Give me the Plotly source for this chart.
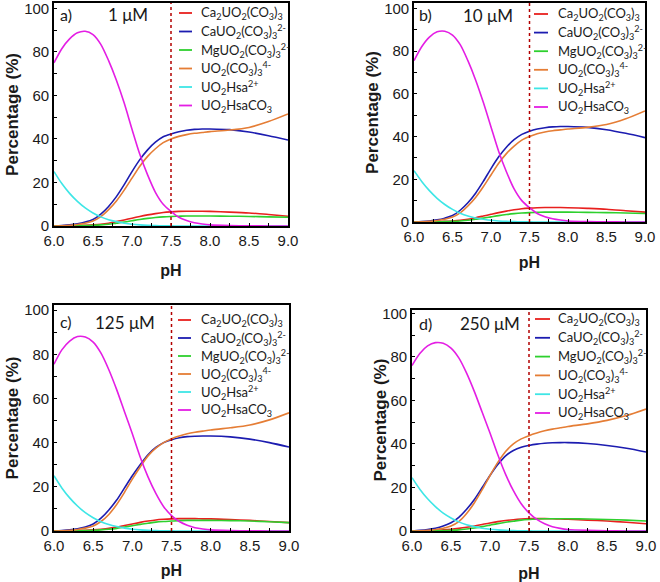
import plotly.graph_objects as go

OFF = 0
W, H = 660, 582

ph = [6.0, 6.1, 6.2, 6.3, 6.4, 6.5, 6.6, 6.7, 6.8, 6.9, 7.0, 7.1, 7.2, 7.3, 7.4, 7.5,
      7.6, 7.7, 7.8, 7.9, 8.0, 8.25, 8.5, 8.75, 9.0]

species = [
    "Ca<sub>2</sub>UO<sub>2</sub>(CO<sub>3</sub>)<sub>3</sub>",
    "CaUO<sub>2</sub>(CO<sub>3</sub>)<sub>3</sub><sup>2-</sup>",
    "MgUO<sub>2</sub>(CO<sub>3</sub>)<sub>3</sub><sup>2-</sup>",
    "UO<sub>2</sub>(CO<sub>3</sub>)<sub>3</sub><sup>4-</sup>",
    "UO<sub>2</sub>Hsa<sup>2+</sup>",
    "UO<sub>2</sub>HsaCO<sub>3</sub>",
]
colors = ["#e8201e", "#1c1cb0", "#2ed02e", "#e57d35", "#3ee6e6", "#e41ee4"]

panel_labels = ["a)", "b)", "c)", "d)"]
conc_labels = ["1 \u03bcM", "10 \u03bcM", "125 \u03bcM", "250 \u03bcM"]

# ---- panel a : 1 uM
a_ca2 = [0, 0, 0.1, 0.2, 0.3, 0.5, 0.8, 1.3, 2.0, 2.8, 3.6, 4.4, 5.1, 5.7, 6.2, 6.5,
         6.7, 6.8, 6.8, 6.8, 6.7, 6.4, 6.0, 5.3, 4.5]
a_ca = [0, 0.2, 0.5, 1.0, 1.8, 3.0, 5.5, 9.0, 13.5, 19.0, 25.0, 30.5, 35.0, 38.5, 41.0, 42.3,
        43.3, 44.0, 44.4, 44.6, 44.6, 44.3, 43.2, 41.5, 39.5]
a_mg = [0, 0, 0, 0.1, 0.2, 0.3, 0.5, 0.8, 1.3, 1.8, 2.4, 3.0, 3.5, 3.9, 4.2, 4.4,
        4.5, 4.6, 4.6, 4.6, 4.6, 4.5, 4.4, 4.2, 4.0]
a_uo2co3 = [0, 0.1, 0.3, 0.7, 1.3, 2.3, 4.3, 7.5, 11.5, 16.5, 22.0, 27.5, 32.0, 35.5, 38.3, 40.0,
            41.2, 42.0, 42.6, 43.0, 43.4, 44.1, 45.3, 48.0, 51.5]
a_hsa = [25.0, 19.5, 15.0, 11.3, 8.3, 6.0, 4.2, 2.9, 2.0, 1.3, 0.8, 0.5, 0.3, 0.2, 0.1, 0.05,
         0, 0, 0, 0, 0, 0, 0, 0, 0]
a_hsaco3 = [75.0, 81.5, 86.0, 88.8, 89.5, 88.0, 83.5, 76.0, 67.0, 56.5, 44.5, 33.0, 23.5, 15.5, 10.0, 6.7,
            4.0, 2.5, 1.5, 0.9, 0.5, 0.2, 0.1, 0, 0]

# ---- panel b : 10 uM
b_ca2 = [0, 0, 0.1, 0.2, 0.3, 0.5, 0.8, 1.3, 2.0, 2.8, 3.6, 4.4, 5.1, 5.7, 6.2, 6.5,
         6.7, 6.8, 6.8, 6.8, 6.7, 6.4, 6.0, 5.3, 4.6]
b_ca = [0, 0.2, 0.5, 1.0, 1.8, 3.0, 5.5, 9.0, 13.5, 19.0, 25.0, 30.5, 35.0, 38.5, 41.0, 42.5,
        43.5, 44.1, 44.5, 44.7, 44.7, 44.3, 43.2, 41.5, 39.5]
b_mg = [0, 0, 0, 0.1, 0.2, 0.3, 0.5, 0.8, 1.3, 1.8, 2.4, 3.0, 3.5, 3.9, 4.2, 4.4,
        4.5, 4.6, 4.6, 4.6, 4.6, 4.5, 4.4, 4.2, 4.0]
b_uo2co3 = [0, 0.1, 0.3, 0.7, 1.3, 2.3, 4.3, 7.5, 11.5, 16.5, 22.0, 27.5, 32.0, 35.5, 38.3, 40.0,
            41.3, 42.1, 42.7, 43.1, 43.5, 44.3, 45.6, 48.3, 52.0]
b_hsa = [24.0, 19.0, 14.7, 11.1, 8.2, 5.9, 4.1, 2.8, 1.9, 1.3, 0.8, 0.5, 0.3, 0.2, 0.1, 0.05,
         0, 0, 0, 0, 0, 0, 0, 0, 0]
b_hsaco3 = [75.5, 82.0, 86.5, 89.0, 89.3, 87.5, 83.0, 75.5, 66.5, 56.0, 44.5, 33.0, 23.5, 15.5, 10.0, 6.7,
            4.0, 2.5, 1.5, 0.9, 0.5, 0.2, 0.1, 0, 0]

# ---- panel c : 125 uM
c_ca2 = [0, 0, 0.1, 0.2, 0.3, 0.5, 0.8, 1.2, 1.8, 2.5, 3.2, 3.9, 4.5, 5.0, 5.3, 5.5,
         5.6, 5.6, 5.6, 5.5, 5.5, 5.2, 4.8, 4.3, 3.8]
c_ca = [0, 0.2, 0.5, 1.0, 1.8, 3.2, 5.8, 9.5, 14.0, 19.5, 25.0, 30.0, 34.5, 37.8, 40.0, 41.3,
        42.2, 42.7, 42.9, 43.0, 43.0, 42.6, 41.6, 40.0, 38.0]
c_mg = [0, 0, 0, 0.1, 0.2, 0.3, 0.5, 0.8, 1.2, 1.8, 2.4, 3.0, 3.5, 4.0, 4.3, 4.5,
        4.7, 4.8, 4.8, 4.8, 4.8, 4.7, 4.5, 4.2, 3.8]
c_uo2co3 = [0, 0.1, 0.3, 0.7, 1.3, 2.3, 4.3, 7.5, 12.0, 17.5, 23.5, 29.0, 34.0, 37.5, 40.0, 41.8,
            43.0, 44.0, 44.7, 45.2, 45.7, 46.7, 48.0, 50.3, 53.5]
c_hsa = [25.0, 19.5, 15.0, 11.3, 8.3, 6.0, 4.2, 2.9, 2.0, 1.3, 0.8, 0.5, 0.3, 0.2, 0.1, 0.05,
         0, 0, 0, 0, 0, 0, 0, 0, 0]
c_hsaco3 = [75.5, 82.0, 86.0, 88.0, 87.8, 85.5, 80.5, 73.0, 64.0, 54.0, 44.0, 33.5, 24.5, 17.0, 11.0, 7.0,
            4.3, 2.6, 1.5, 0.9, 0.5, 0.2, 0.1, 0, 0]

# ---- panel d : 250 uM
d_ca2 = [0, 0, 0.1, 0.3, 0.5, 0.8, 1.2, 1.7, 2.3, 3.0, 3.7, 4.3, 4.8, 5.2, 5.5, 5.7,
         5.7, 5.7, 5.6, 5.5, 5.4, 5.0, 4.6, 4.0, 3.3]
d_ca = [0, 0.3, 0.7, 1.3, 2.3, 3.8, 6.3, 10.0, 14.5, 20.0, 25.5, 30.5, 34.5, 37.0, 38.5, 39.3,
        39.9, 40.3, 40.5, 40.6, 40.6, 40.2, 39.3, 38.0, 36.3]
d_mg = [0, 0, 0, 0.1, 0.2, 0.3, 0.5, 0.9, 1.4, 2.0, 2.7, 3.4, 4.0, 4.5, 5.0, 5.3,
        5.5, 5.6, 5.6, 5.6, 5.6, 5.5, 5.3, 5.0, 4.6]
d_uo2co3 = [0, 0.1, 0.3, 0.7, 1.3, 2.3, 4.3, 8.0, 13.0, 19.0, 25.5, 31.5, 36.5, 40.0, 42.3, 43.8,
            45.0, 46.0, 46.8, 47.4, 48.0, 49.2, 50.8, 53.0, 56.0]
d_hsa = [24.5, 19.2, 14.8, 11.2, 8.2, 6.0, 4.2, 2.9, 2.0, 1.3, 0.8, 0.5, 0.3, 0.2, 0.1, 0.05,
         0, 0, 0, 0, 0, 0, 0, 0, 0]
d_hsaco3 = [76.0, 81.5, 85.0, 86.5, 86.2, 84.0, 79.5, 72.5, 64.0, 54.5, 45.0, 35.0, 26.0, 18.5, 12.5, 8.3,
            5.3, 3.3, 2.0, 1.2, 0.7, 0.3, 0.1, 0, 0]

panels_data = [
    [a_ca2, a_ca, a_mg, a_uo2co3, a_hsa, a_hsaco3],
    [b_ca2, b_ca, b_mg, b_uo2co3, b_hsa, b_hsaco3],
    [c_ca2, c_ca, c_mg, c_uo2co3, c_hsa, c_hsaco3],
    [d_ca2, d_ca, d_mg, d_uo2co3, d_hsa, d_hsaco3],
]

x_ticks = [6.0, 6.5, 7.0, 7.5, 8.0, 8.5, 9.0]
y_ticks = [0, 20, 40, 60, 80, 100]
ph_line = 7.5

# layout in window pixels: plot boxes (left, right, top, bottom) and y-range top
boxes = [
    (54, 288, 3, 226, 102.5),
    (414, 645, 3, 222, 102.5),
    (54, 289, 305, 531, 102.3),
    (412, 646, 310, 531, 101.5),
]
ytitle_standoff = [1, 1, 1, None]
xtitle_standoff = [17, 13, 12, 16]
# legend: swatch x0, swatch x1, text x, first row y, row step
legend_geo = [
    (179, 192, 199, 13, 18.5),
    (534, 548, 556, 14, 18.6),
    (178, 191, 199, 320, 18.0),
    (535, 550, 556, 319, 18.8),
]
label_pos = [(58, 14), (417, 14), (58, 321), (417, 323)]
conc_pos = [(128, 14), (488, 15), (125, 322), (490, 323)]
d_ytitle_x = 380


def px(x):
    return (x - OFF) / W


def py(y):
    return 1 - (y - OFF) / H


fig = go.Figure()
tick_font = dict(family="Liberation Sans, Arial", size=15, color="#1a1a1a")
xtitle_font = dict(family="Liberation Sans, Arial", size=16, color="#1a1a1a")
ytitle_font = dict(family="Liberation Sans, Arial", size=17, color="#1a1a1a")
leg_font = dict(family="Lato, Carlito, sans-serif", size=13, color="#1a1a1a")

for i, series in enumerate(panels_data):
    k = "" if i == 0 else str(i + 1)
    for name, vals, col in zip(species, series, colors):
        fig.add_trace(go.Scatter(
            x=ph, y=vals, name=name, mode="lines",
            line=dict(color=col, width=1.6, shape="spline", smoothing=0.8),
            xaxis="x" + k, yaxis="y" + k, showlegend=False,
        ))
    l, r, t, b, ytop = boxes[i]
    fig.layout["xaxis" + k] = dict(
        domain=[px(l), px(r)], anchor="y" + k, range=[6.0, 9.0], automargin=False,
        tickvals=x_ticks, ticktext=[f"{v:.1f}" for v in x_ticks],
        ticks="inside", ticklen=3, tickcolor="black", tickwidth=1.2,
        minor=dict(dtick=0.25, ticks="inside", ticklen=3, tickcolor="black"),
        showline=True, linecolor="black", linewidth=1.6, mirror=True,
        showgrid=False, zeroline=False, tickfont=tick_font, ticklabeloverflow="allow",
        title=dict(text="<b>pH</b>", font=xtitle_font, standoff=xtitle_standoff[i]),
    )
    ytitle = dict(text="<b>Percentage (%)</b>", font=ytitle_font, standoff=ytitle_standoff[i]) \
        if ytitle_standoff[i] is not None else dict(text="")
    fig.layout["yaxis" + k] = dict(
        domain=[py(b), py(t)], anchor="x" + k, range=[0, ytop], automargin=False,
        tickvals=y_ticks, ticks="inside", ticklen=3, tickcolor="black", tickwidth=1.2,
        minor=dict(dtick=10, ticks="inside", ticklen=3, tickcolor="black"),
        showline=True, linecolor="black", linewidth=1.6, mirror=True,
        showgrid=False, zeroline=False, tickfont=tick_font, ticklabeloverflow="allow",
        title=ytitle,
    )
    if ytitle_standoff[i] is None:
        fig.add_annotation(text="<b>Percentage (%)</b>", textangle=-90,
                           x=px(d_ytitle_x), y=(py(b) + py(t)) / 2, xref="paper", yref="paper",
                           xanchor="center", yanchor="middle", showarrow=False, font=ytitle_font)
    fig.add_shape(type="line", xref="x" + k, yref="y" + k + " domain",
                  x0=ph_line, x1=ph_line, y0=0, y1=1,
                  line=dict(color="#b30000", width=1.5, dash="dot"))
    # legend drawn inside the panel
    sx0, sx1, tx, ry0, rstep = legend_geo[i]
    for j, (name, col) in enumerate(zip(species, colors)):
        yy = py(ry0 + j * rstep)
        fig.add_shape(type="line", xref="paper", yref="paper",
                      x0=px(sx0), x1=px(sx1), y0=yy, y1=yy,
                      line=dict(color=col, width=1.8))
        fig.add_annotation(text=name, x=px(tx), y=yy, xref="paper", yref="paper",
                           xanchor="left", yanchor="middle", showarrow=False, font=leg_font)
    fig.add_annotation(text=panel_labels[i], x=px(label_pos[i][0]), y=py(label_pos[i][1]),
                       xref="paper", yref="paper", xanchor="left", yanchor="middle",
                       showarrow=False,
                       font=dict(family="Lato, sans-serif", size=16, color="#1a1a1a"))
    fig.add_annotation(text=conc_labels[i], x=px(conc_pos[i][0]), y=py(conc_pos[i][1]),
                       xref="paper", yref="paper", xanchor="center", yanchor="middle",
                       showarrow=False,
                       font=dict(family="Lato, sans-serif", size=17, color="#1a1a1a"))

fig.update_layout(
    width=W, height=H, margin=dict(l=0, r=0, t=0, b=0),
    paper_bgcolor="white", plot_bgcolor="white",
)

# the page body default margin would offset the figure by 8px
fig.write_html("out.html", config={"displayModeBar": False},
               post_script="document.body.style.margin='0';")
